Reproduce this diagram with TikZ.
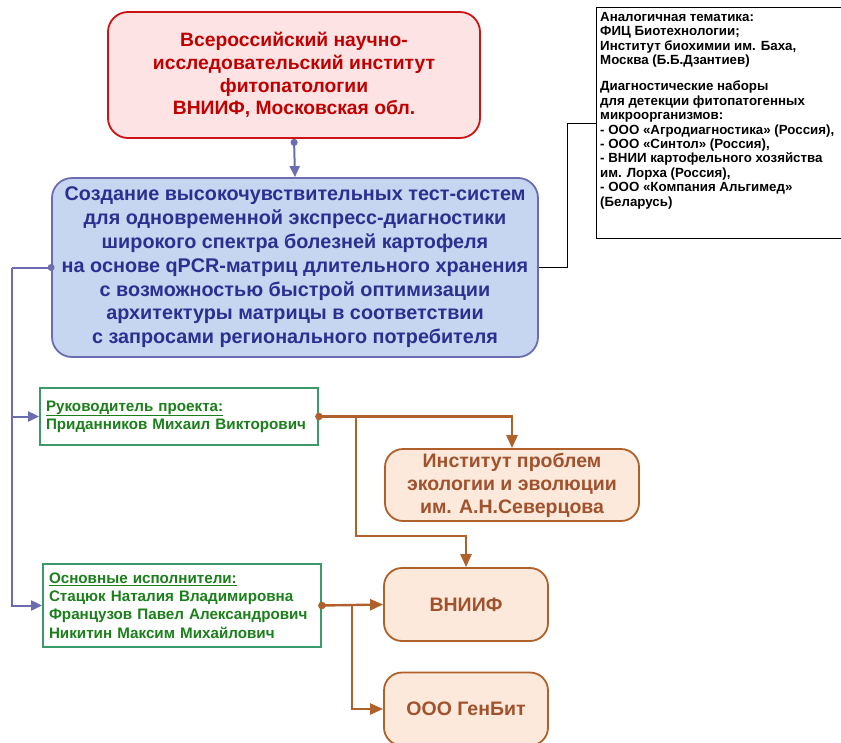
\documentclass[tikz,border=0pt]{standalone}
\usepackage{fontspec}
\setmainfont{Liberation Sans}
\usetikzlibrary{arrows.meta,positioning}
\definecolor{redtxt}{RGB}{192,0,0}
\definecolor{redfill}{RGB}{253,227,227}
\definecolor{redborder}{RGB}{205,20,20}
\definecolor{bluefill}{RGB}{198,214,240}
\definecolor{blueborder}{RGB}{108,108,176}
\definecolor{bluetxt}{RGB}{43,48,144}
\definecolor{greenborder}{RGB}{58,154,106}
\definecolor{greentxt}{RGB}{27,127,27}
\definecolor{orfill}{RGB}{253,233,219}
\definecolor{orborder}{RGB}{176,96,42}
\definecolor{ortxt}{RGB}{160,82,45}
\tikzset{
  redbox/.style={draw=redborder, fill=redfill, line width=1.8pt, rounded corners=20pt,
    text=redtxt, font=\bfseries\fontsize{19.3}{22.7}\selectfont, align=center,
    minimum width=372pt, minimum height=126pt, inner sep=0pt},
  bluebox/.style={draw=blueborder, fill=bluefill, line width=1.8pt, rounded corners=20pt,
    text=bluetxt, font=\bfseries\fontsize{19.8}{23.8}\selectfont, align=center,
    minimum width=486pt, minimum height=179pt, inner sep=0pt},
  infoframe/.style={draw=black, fill=white, line width=1.3pt,
    minimum width=250pt, minimum height=231pt, inner sep=0pt, anchor=north west},
  infotext/.style={text=black, font=\bfseries\fontsize{13.3}{14.4}\selectfont, align=left,
    inner xsep=4pt, inner ysep=5pt, anchor=north west},
  greenbox/.style={draw=greenborder, fill=white, line width=1.8pt, text=greentxt,
    font=\bfseries\fontsize{15.2}{18.3}\selectfont, align=left, inner xsep=6pt, inner ysep=0pt},
  orbox/.style={draw=orborder, fill=orfill, line width=1.8pt, rounded corners=18pt,
    text=ortxt, font=\bfseries\fontsize{19.5}{23}\selectfont, align=center, inner sep=0pt},
  blueline/.style={draw=blueborder, line width=2pt},
  orline/.style={draw=orborder, line width=2.4pt},
  btip/.style={-{Triangle[length=11pt,width=10pt]}},
  otip/.style={-{Triangle[length=13pt,width=11pt]}},
  dotstart/.style={{Circle[length=7pt]}-{Triangle[length=11pt,width=10pt]}},
}
\begin{document}
\begin{tikzpicture}[x=1pt,y=-1pt]
\useasboundingbox (0,0) rectangle (841,742);
\node[redbox] (red) at (294,75) {Всероссийский научно-\\исследовательский институт\\фитопатологии\\ВНИИФ, Московская обл.};
\node[bluebox] (blue) at (295,267.5) {Создание высокочувствительных тест-систем\\для одновременной экспресс-диагностики\\широкого спектра болезней картофеля\\на основе qPCR-матриц длительного хранения\\с возможностью быстрой оптимизации\\архитектуры матрицы в соответствии\\с запросами регионального потребителя};
\node[infoframe] (info) at (596,7) {};
\node[infotext] (infotxt) at (info.north west) {Аналогичная тематика:\\ФИЦ Биотехнологии;\\Институт биохимии им. Баха,\\Москва (Б.Б.Дзантиев)\\[12pt]Диагностические наборы\\для детекции фитопатогенных\\микроорганизмов:\\- ООО «Агродиагностика» (Россия),\\- ООО «Синтол» (Россия),\\- ВНИИ картофельного хозяйства\\им. Лорха (Россия),\\- ООО «Компания Альгимед»\\(Беларусь)};
\node[greenbox, minimum width=278pt, minimum height=57pt, text width=266pt] (g1) at (179,416.5) {\underline{Руководитель проекта:}\\Приданников Михаил Викторович};
\node[greenbox, minimum width=278pt, minimum height=83pt, text width=266pt] (g2) at (182,605.5) {\underline{Основные исполнители:}\\Стацюк Наталия Владимировна\\Французов Павел Александрович\\Никитин Максим Михайлович};
\node[orbox, minimum width=254pt, minimum height=72pt] (inst) at (512,485) {Институт проблем\\экологии и эволюции\\им. А.Н.Северцова};
\node[orbox, minimum width=164pt, minimum height=73pt] (vniif) at (466,604.5) {ВНИИФ};
\node[orbox, minimum width=164pt, minimum height=73pt] (genbit) at (466,709) {ООО ГенБит};
% blue connectors
\draw[blueline, dotstart] (red.south) -- (blue.north);
\coordinate (lft) at (12,267.5);
\fill[blueborder] (blue.west) circle (3.5pt);
\draw[blueline] (blue.west) -- (lft);
\draw[blueline, btip] (lft) |- (g1.west);
\draw[blueline, btip] (lft) |- (g2.west);
% info connector
\coordinate (rgt) at (567,267.5);
\draw[black, line width=0.9pt] (blue.east) -- (rgt) |- (info.west);
% orange connectors
\coordinate (b1) at (356,416.5);
\coordinate (b2) at (356,536);
\coordinate (b3) at (352,605.5);
\fill[orborder] (g1.east) circle (3.8pt);
\fill[orborder] (g2.east) circle (3.8pt);
\draw[orline, otip] (g1.east) -| (inst.north);
\draw[orline, otip] (b1) -- (b2) -| (vniif.north);
\draw[orline, otip] (g2.east) -- (vniif.west);
\draw[orline, otip] (b3) |- (genbit.west);
\end{tikzpicture}
\end{document}
